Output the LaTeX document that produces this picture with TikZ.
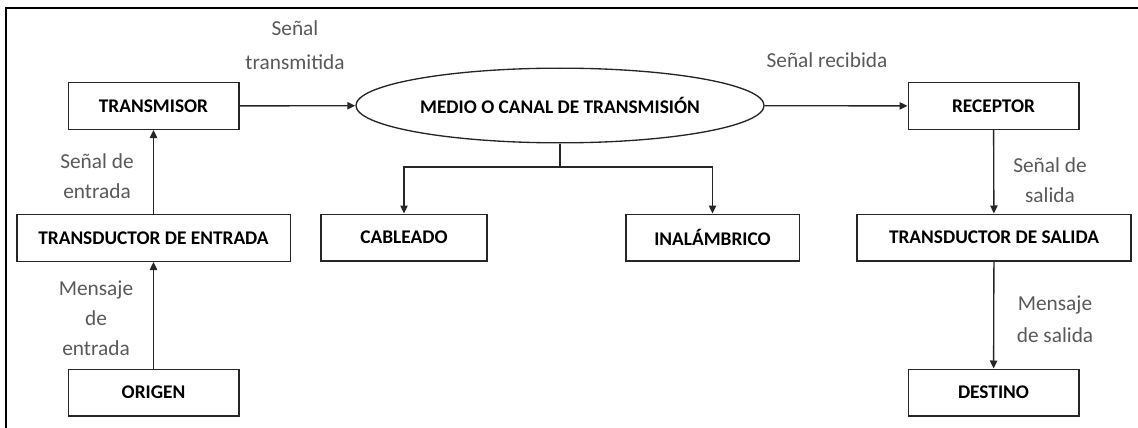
\documentclass[tikz,border=0pt]{standalone}
\usepackage{fontspec}
\setmainfont{Carlito}
\usetikzlibrary{arrows.meta,shapes.geometric,positioning}
\definecolor{etiqueta}{HTML}{595959}

\begin{document}
\begin{tikzpicture}[
    x=0.75pt, y=-0.75pt,
    bloque/.style={
        rectangle,
        draw=black!85,
        line width=1pt,
        minimum width=128pt,
        minimum height=35pt,
        align=center,
        font=\fontsize{14.5}{17}\selectfont\bfseries
    },
    texto/.style={
        text=etiqueta,
        align=center,
        font=\fontsize{16}{22.5}\selectfont
    },
    flecha/.style={
        -{Triangle[length=6pt,width=5.5pt]},
        line width=1pt,
        black!85
    }
]
\useasboundingbox (0,0) rectangle (1138,428);

% Marco
\draw[line width=1.1pt] (6,428) -- (6,8) -- (1138,8);

% Lado emisor
\node[bloque] (transmisor) at (153.5,106) {TRANSMISOR};
\node[bloque, minimum width=205pt] (tde) at (153.5,238) {TRANSDUCTOR DE ENTRADA};
\node[bloque] (origen) at (153.5,392.5) {ORIGEN};

\draw[flecha] (origen) -- (tde);
\draw[flecha] (tde) -- (transmisor);

\node[texto] (senalentrada) at (97,176.5) {Señal de\\entrada};
\node[texto] (mensajeentrada) at (96,318) {Mensaje\\de\\entrada};

% Medio de transmision
\node[ellipse, draw=black!85, line width=1pt, minimum width=274.5pt, minimum height=56pt,
      font=\fontsize{14.5}{17}\selectfont\bfseries] (medio) at (560,105.5) {MEDIO O CANAL DE TRANSMISIÓN};
\node[bloque, minimum width=124.5pt] (cableado) at (404,237.5) {CABLEADO};
\node[bloque, minimum width=130pt] (inalambrico) at (712.5,237.5) {INALÁMBRICO};

\draw[flecha] (transmisor) -- (medio);
\coordinate (rama) at (560,167);
\draw[line width=1pt, black!85] (medio.south) -- (rama);
\draw[flecha] (rama) -| (cableado.north);
\draw[flecha] (rama) -| (inalambrico.north);

\node[texto, font=\fontsize{16}{25.5}\selectfont] (senaltrans) at (295,45) {Señal\\transmitida};

% Lado receptor
\node[bloque] (receptor) at (993.5,106) {RECEPTOR};
\node[bloque, minimum width=205.5pt] (tds) at (994,237.5) {TRANSDUCTOR DE SALIDA};
\node[bloque] (destino) at (993.5,392.5) {DESTINO};

\draw[flecha] (medio) -- (receptor);
\draw[flecha] (receptor) -- (tds);
\draw[flecha] (tds) -- (destino);

\node[texto] (senalrecibida) at (827,60) {Señal recibida};
\node[texto] (senalsalida) at (1050,180) {Señal de\\salida};
\node[texto, font=\fontsize{16}{24}\selectfont] (mensajesalida) at (1055,319) {Mensaje\\de salida};

\end{tikzpicture}
\end{document}
